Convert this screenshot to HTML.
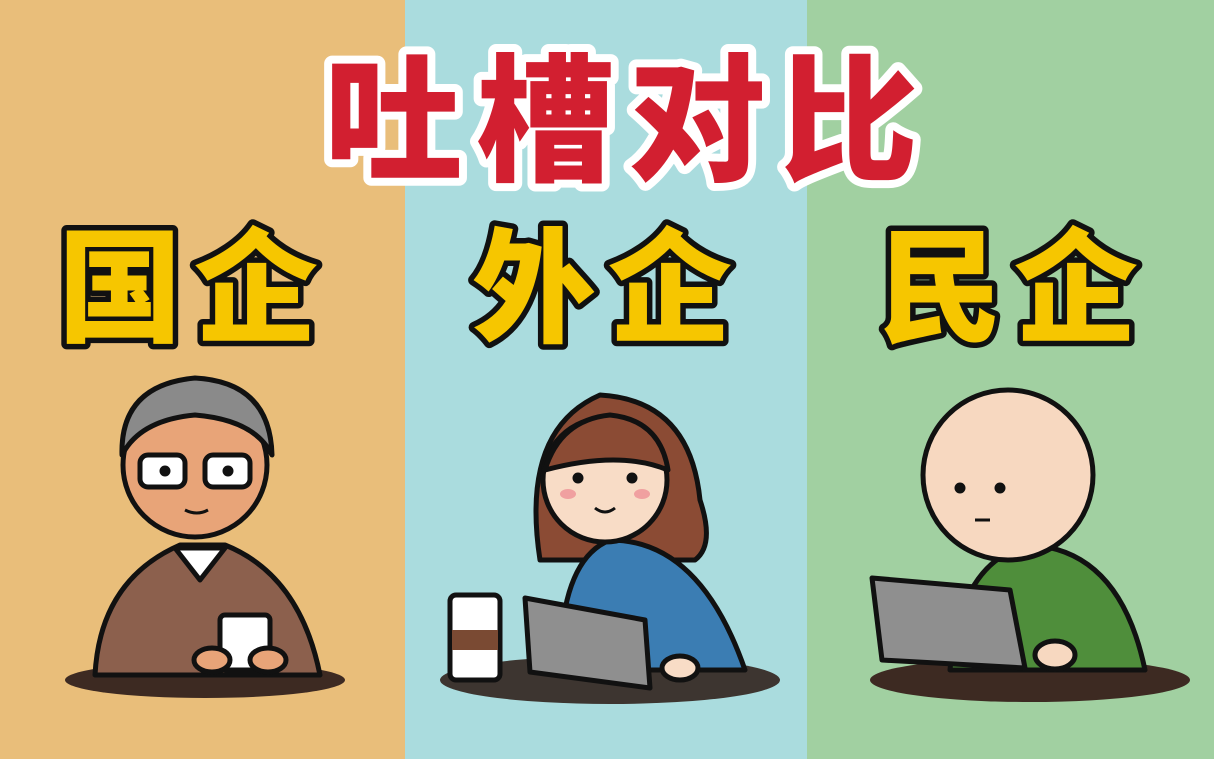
<!DOCTYPE html>
<html><head><meta charset="utf-8"><style>
html,body{margin:0;padding:0;width:1214px;height:759px;overflow:hidden}
svg{display:block}
.t{font-family:"Liberation Sans","Noto Sans CJK SC",sans-serif;font-weight:900}
</style></head><body>
<svg width="1214" height="759" viewBox="0 0 1214 759">
<rect x="0" y="0" width="405" height="759" fill="#E9BE7A"/>
<rect x="405" y="0" width="402" height="759" fill="#AADCDE"/>
<rect x="807" y="0" width="407" height="759" fill="#A1D0A1"/>

<text class="t" x="628" y="170" font-size="138" text-anchor="middle" letter-spacing="14" fill="#D21F30" stroke="#D21F30" stroke-width="5"></text>
<text class="t" x="628" y="170" font-size="138" text-anchor="middle" letter-spacing="14" fill="#D21F30" stroke="#fff" stroke-width="16" stroke-linejoin="round" paint-order="stroke">吐槽对比</text>

<g class="t" font-size="124" fill="#F6C600" stroke="#111" stroke-width="11" stroke-linejoin="round" paint-order="stroke" text-anchor="middle" letter-spacing="12">
<text x="194" y="332">国企</text>
<text x="608" y="332">外企</text>
<text x="1014" y="332">民企</text>
</g>

<!-- SOE elder -->
<g stroke="#111" stroke-width="5" stroke-linejoin="round">
<ellipse cx="205" cy="680" rx="140" ry="18" fill="#3D2A22" stroke="none"/>
<path d="M95,675 Q100,580 180,545 L225,545 Q300,575 320,675 Z" fill="#8C604D"/>
<path d="M175,548 L200,580 L225,548 Z" fill="#fff"/>
<circle cx="195" cy="465" r="72" fill="#E8A478"/>
<path d="M122,455 Q120,385 195,378 Q270,382 272,455 Q255,420 195,415 Q140,420 122,455 Z" fill="#8A8A8A"/>
<rect x="140" y="455" width="45" height="32" rx="8" fill="#fff"/>
<rect x="205" y="455" width="45" height="32" rx="8" fill="#fff"/>
<circle cx="165" cy="471" r="3" fill="#111"/>
<circle cx="228" cy="471" r="3" fill="#111"/>
<path d="M185,510 Q197,516 208,510" fill="none" stroke-width="3"/>
<rect x="220" y="615" width="50" height="55" rx="5" fill="#fff"/>
<ellipse cx="212" cy="660" rx="18" ry="12" fill="#E8A478"/>
<ellipse cx="268" cy="660" rx="18" ry="12" fill="#E8A478"/>
</g>

<!-- Foreign woman -->
<g stroke="#111" stroke-width="5" stroke-linejoin="round">
<ellipse cx="610" cy="680" rx="170" ry="24" fill="#3D3530" stroke="none"/>
<path d="M540,560 Q520,430 600,395 Q690,400 700,500 Q715,545 695,560 Z" fill="#8B4B34"/>
<path d="M560,670 Q560,560 610,540 Q700,540 745,670 Z" fill="#3B7DB3"/>
<circle cx="605" cy="480" r="62" fill="#F8DCC6"/>
<path d="M545,470 Q560,420 610,415 Q660,420 668,470 Q620,450 545,470 Z" fill="#8B4B34"/>
<circle cx="578" cy="478" r="3" fill="#111"/>
<circle cx="632" cy="478" r="3" fill="#111"/>
<ellipse cx="568" cy="494" rx="8" ry="5" fill="#F0A0A0" stroke="none"/>
<ellipse cx="642" cy="494" rx="8" ry="5" fill="#F0A0A0" stroke="none"/>
<path d="M595,508 Q605,516 615,508" fill="none" stroke-width="3"/>
<rect x="450" y="595" width="50" height="85" rx="6" fill="#fff"/>
<rect x="452" y="630" width="46" height="20" fill="#7A4A33" stroke="none"/>
<path d="M525,598 L645,620 L650,688 L530,672 Z" fill="#8F8F8F"/>
<ellipse cx="680" cy="668" rx="18" ry="12" fill="#F8DCC6"/>
</g>

<!-- Private bald -->
<g stroke="#111" stroke-width="5" stroke-linejoin="round">
<ellipse cx="1030" cy="680" rx="160" ry="22" fill="#3D2A22" stroke="none"/>
<path d="M950,670 Q960,560 1030,545 Q1120,550 1145,670 Z" fill="#4F8E3B"/>
<circle cx="1008" cy="475" r="85" fill="#F7D8C0"/>
<circle cx="960" cy="488" r="3" fill="#111"/>
<circle cx="1000" cy="488" r="3" fill="#111"/>
<path d="M975,520 L990,520" stroke-width="3"/>
<path d="M872,578 L1010,590 L1025,668 L882,660 Z" fill="#8F8F8F"/>
<ellipse cx="1055" cy="655" rx="20" ry="14" fill="#F7D8C0"/>
</g>
</svg>
</body></html>
